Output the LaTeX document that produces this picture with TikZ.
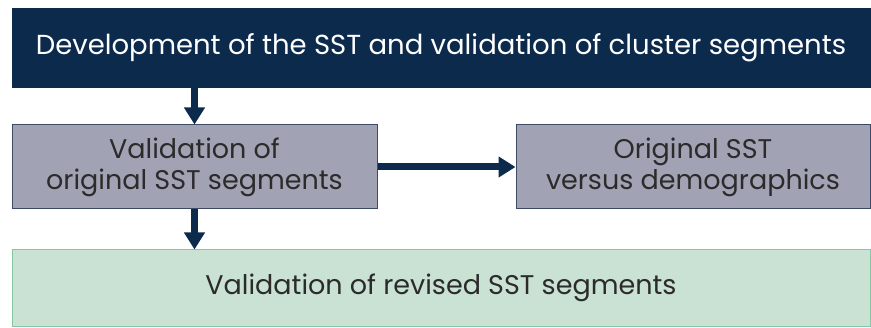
\documentclass[tikz,border=0pt]{standalone}
\usepackage{fontspec}
\setmainfont{Poppins}
\usetikzlibrary{arrows.meta,calc,positioning}
\definecolor{navy}{HTML}{0C2A4C}
\definecolor{slate}{HTML}{A1A2B3}
\definecolor{slateedge}{HTML}{3D4A66}
\definecolor{mint}{HTML}{C9E2D4}
\definecolor{mintedge}{HTML}{86C6A5}
\definecolor{inkgray}{HTML}{2B2B2B}

\begin{document}
\begin{tikzpicture}[x=1pt,y=1pt,>={Triangle[length=17pt,width=20pt]},
  headbox/.style={fill=navy,draw=navy,text=white,minimum width=858pt,minimum height=79pt,inner sep=0pt,font=\fontsize{27.5}{31}\selectfont},
  stagebox/.style={fill=slate,draw=slateedge,line width=1pt,text=inkgray,inner sep=0pt,minimum height=84pt,align=center,font=\fontsize{27}{31}\selectfont},
  resultbox/.style={fill=mint,draw=mintedge,line width=1pt,text=inkgray,inner sep=0pt,minimum width=858pt,minimum height=76pt,font=\fontsize{27}{31}\selectfont},
  flow/.style={->,navy,line width=7pt}]
\useasboundingbox (0,0) rectangle (871,327);
% boxes
\node[headbox] (dev) at (441,279.5) {Development of the SST and validation of cluster segments};
\node[stagebox,minimum width=365pt] (orig) at (194.5,160) {Validation of\\original SST segments};
\node[stagebox,minimum width=354pt] (demo) at (693,160) {Original SST\\versus demographics};
\node[resultbox] (rev) at (441,39) {Validation of revised SST segments};
% arrows
\draw[flow] (dev.south -| orig.north) -- (orig.north);
\draw[flow] (orig.east) -- (demo.west);
\draw[flow] (orig.south) -- (rev.north -| orig.south);
\end{tikzpicture}
\end{document}
